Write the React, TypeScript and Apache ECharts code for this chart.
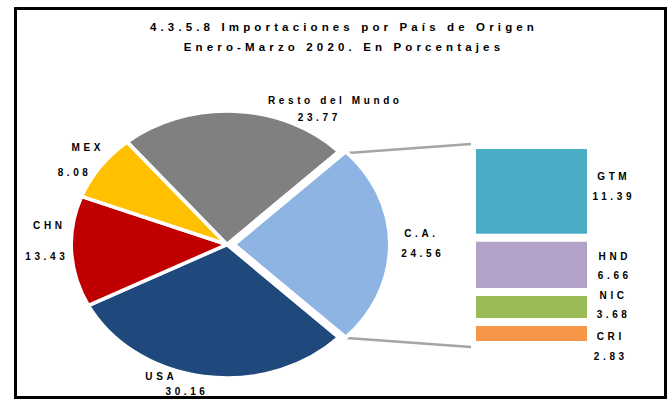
import React, { useEffect, useRef } from 'react';
import * as echarts from 'echarts';

// ---- data ----
const titleLines = ['4.3.5.8 Importaciones por País de Origen', 'Enero-Marzo 2020. En Porcentajes'];
const pieNames = ['C.A.', 'USA', 'CHN', 'MEX', 'Resto del Mundo'];
const pieValues = [24.56, 30.16, 13.43, 8.08, 23.77];
const barNames = ['GTM', 'HND', 'NIC', 'CRI'];
const barValues = [11.39, 6.66, 3.68, 2.83];
const barCategory = ['C.A.'];

// ---- styles / layout ----
const pieColors = ['#8EB4E3', '#1F497D', '#C00000', '#FFC000', '#808080'];
const barColors = ['#4BACC6', '#B3A2C7', '#9BBB59', '#F79646'];
const FONT = '"Liberation Sans", Arial, sans-serif';
const PIE_CX = 227;
const PIE_CY = 244.5;
const PIE_RX = 156;
const PIE_RY = 133.5;
const EXPLODE = 7;
// [nameX, nameY, valueX, valueY]
const pieLabelPos = [
  [421.5, 233, 422.8, 253],
  [161.3, 376.3, 187, 391.5],
  [49.3, 225.5, 46.8, 256.3],
  [87.8, 147, 74.6, 172],
  [335.3, 100.5, 319.3, 117],
];
const barLabelOffset = [
  [22.8, -5],
  [23.8, 1],
  [22.6, -2],
  [19.8, 13],
];

export default function App() {
  const ref = useRef<HTMLDivElement>(null);

  useEffect(() => {
    if (!ref.current) return;
    const chart = echarts.init(ref.current, undefined, { renderer: 'svg' });

    const total = pieValues.reduce((a, b) => a + b, 0);
    const startBase = (-Math.PI * pieValues[0]) / total;
    const cum: number[] = [];
    let acc = 0;
    pieValues.forEach((v) => {
      cum.push(acc);
      acc += v;
    });

    const textStyle = (text: string, x: number, y: number) => ({
      text,
      x,
      y,
      align: 'center',
      verticalAlign: 'middle',
      fill: '#000',
      fontSize: 10,
      fontWeight: 'bold',
      fontFamily: FONT,
    });

    const renderItem = (params: any, api: any) => {
      const i = params.dataIndex;
      const v = api.value(0) as number;
      const a0 = startBase + (cum[i] / total) * 2 * Math.PI;
      const a1 = a0 + (v / total) * 2 * Math.PI;
      const mid = (a0 + a1) / 2;
      const off = i === 0 ? EXPLODE : 0;
      const lp = pieLabelPos[i];
      return {
        type: 'group',
        children: [
          {
            type: 'sector',
            x: PIE_CX + off * Math.cos(mid),
            y: PIE_CY + off * Math.sin(mid),
            scaleX: PIE_RX / PIE_RY,
            scaleY: 1,
            shape: { cx: 0, cy: 0, r0: 0, r: PIE_RY, startAngle: a0, endAngle: a1, clockwise: true },
            style: { fill: pieColors[i], stroke: '#fff', lineWidth: 3.5, strokeNoScale: true },
          },
          { type: 'text', style: textStyle(pieNames[i], lp[0], lp[1]) },
          { type: 'text', style: textStyle(v.toFixed(2), lp[2], lp[3]) },
        ],
      };
    };

    const barTotal = barValues.reduce((a, b) => a + b, 0);
    const barOrder = barNames.map((_, i) => i).reverse(); // bottom first

    const barSeries = barOrder.map((i) => ({
      type: 'bar',
      name: barNames[i],
      stack: 'ca',
      data: [barValues[i]],
      barWidth: '100%',
      itemStyle: { color: barColors[i], borderColor: '#fff', borderWidth: 4 },
      label: {
        show: true,
        position: ['100%', '50%'],
        align: 'center',
        verticalAlign: 'middle',
        offset: barLabelOffset[i],
        formatter: (p: any) => `${p.seriesName}\n${Number(p.value).toFixed(2)}`,
        color: '#000',
        fontSize: 10,
        fontWeight: 'bold',
        fontFamily: FONT,
        lineHeight: 19.5,
      },
      silent: true,
    }));

    chart.setOption({
      animation: false,
      backgroundColor: '#fff',
      title: {
        text: titleLines.join('\n'),
        left: 344,
        top: 16.7,
        padding: 0,
        textAlign: 'center',
        textStyle: {
          fontSize: 11.5,
          fontWeight: 'bold',
          fontFamily: FONT,
          color: '#000',
          lineHeight: 20.5,
        },
      },
      grid: { left: 472, top: 145, width: 119, height: 200 },
      xAxis: { type: 'category', data: barCategory, show: false },
      yAxis: { type: 'value', min: 0, max: barTotal, show: false },
      graphic: [
        {
          type: 'rect',
          shape: { x: 15.5, y: 8.5, width: 650, height: 389 },
          style: { fill: 'none', stroke: '#000', lineWidth: 3 },
          z: 10,
        },
        {
          type: 'line',
          shape: { x1: 348, y1: 153, x2: 471, y2: 144 },
          style: { stroke: '#A5A5A5', lineWidth: 2.5 },
        },
        {
          type: 'line',
          shape: { x1: 347, y1: 338, x2: 471, y2: 347 },
          style: { stroke: '#A5A5A5', lineWidth: 2.5 },
        },
      ],
      series: [
        {
          type: 'custom',
          coordinateSystem: 'none',
          data: pieValues.map((v, i) => ({ name: pieNames[i], value: v })),
          renderItem,
          silent: true,
        },
        ...barSeries,
      ],
    } as any);

    return () => chart.dispose();
  }, []);

  return (
    <>
      <style>{'#chart-root text { letter-spacing: 0.36em; }'}</style>
      <div
        id="chart-root"
        ref={ref}
        style={{ position: 'absolute', left: 0, top: 0, width: 669, height: 403, background: '#fff' }}
      />
    </>
  );
}
